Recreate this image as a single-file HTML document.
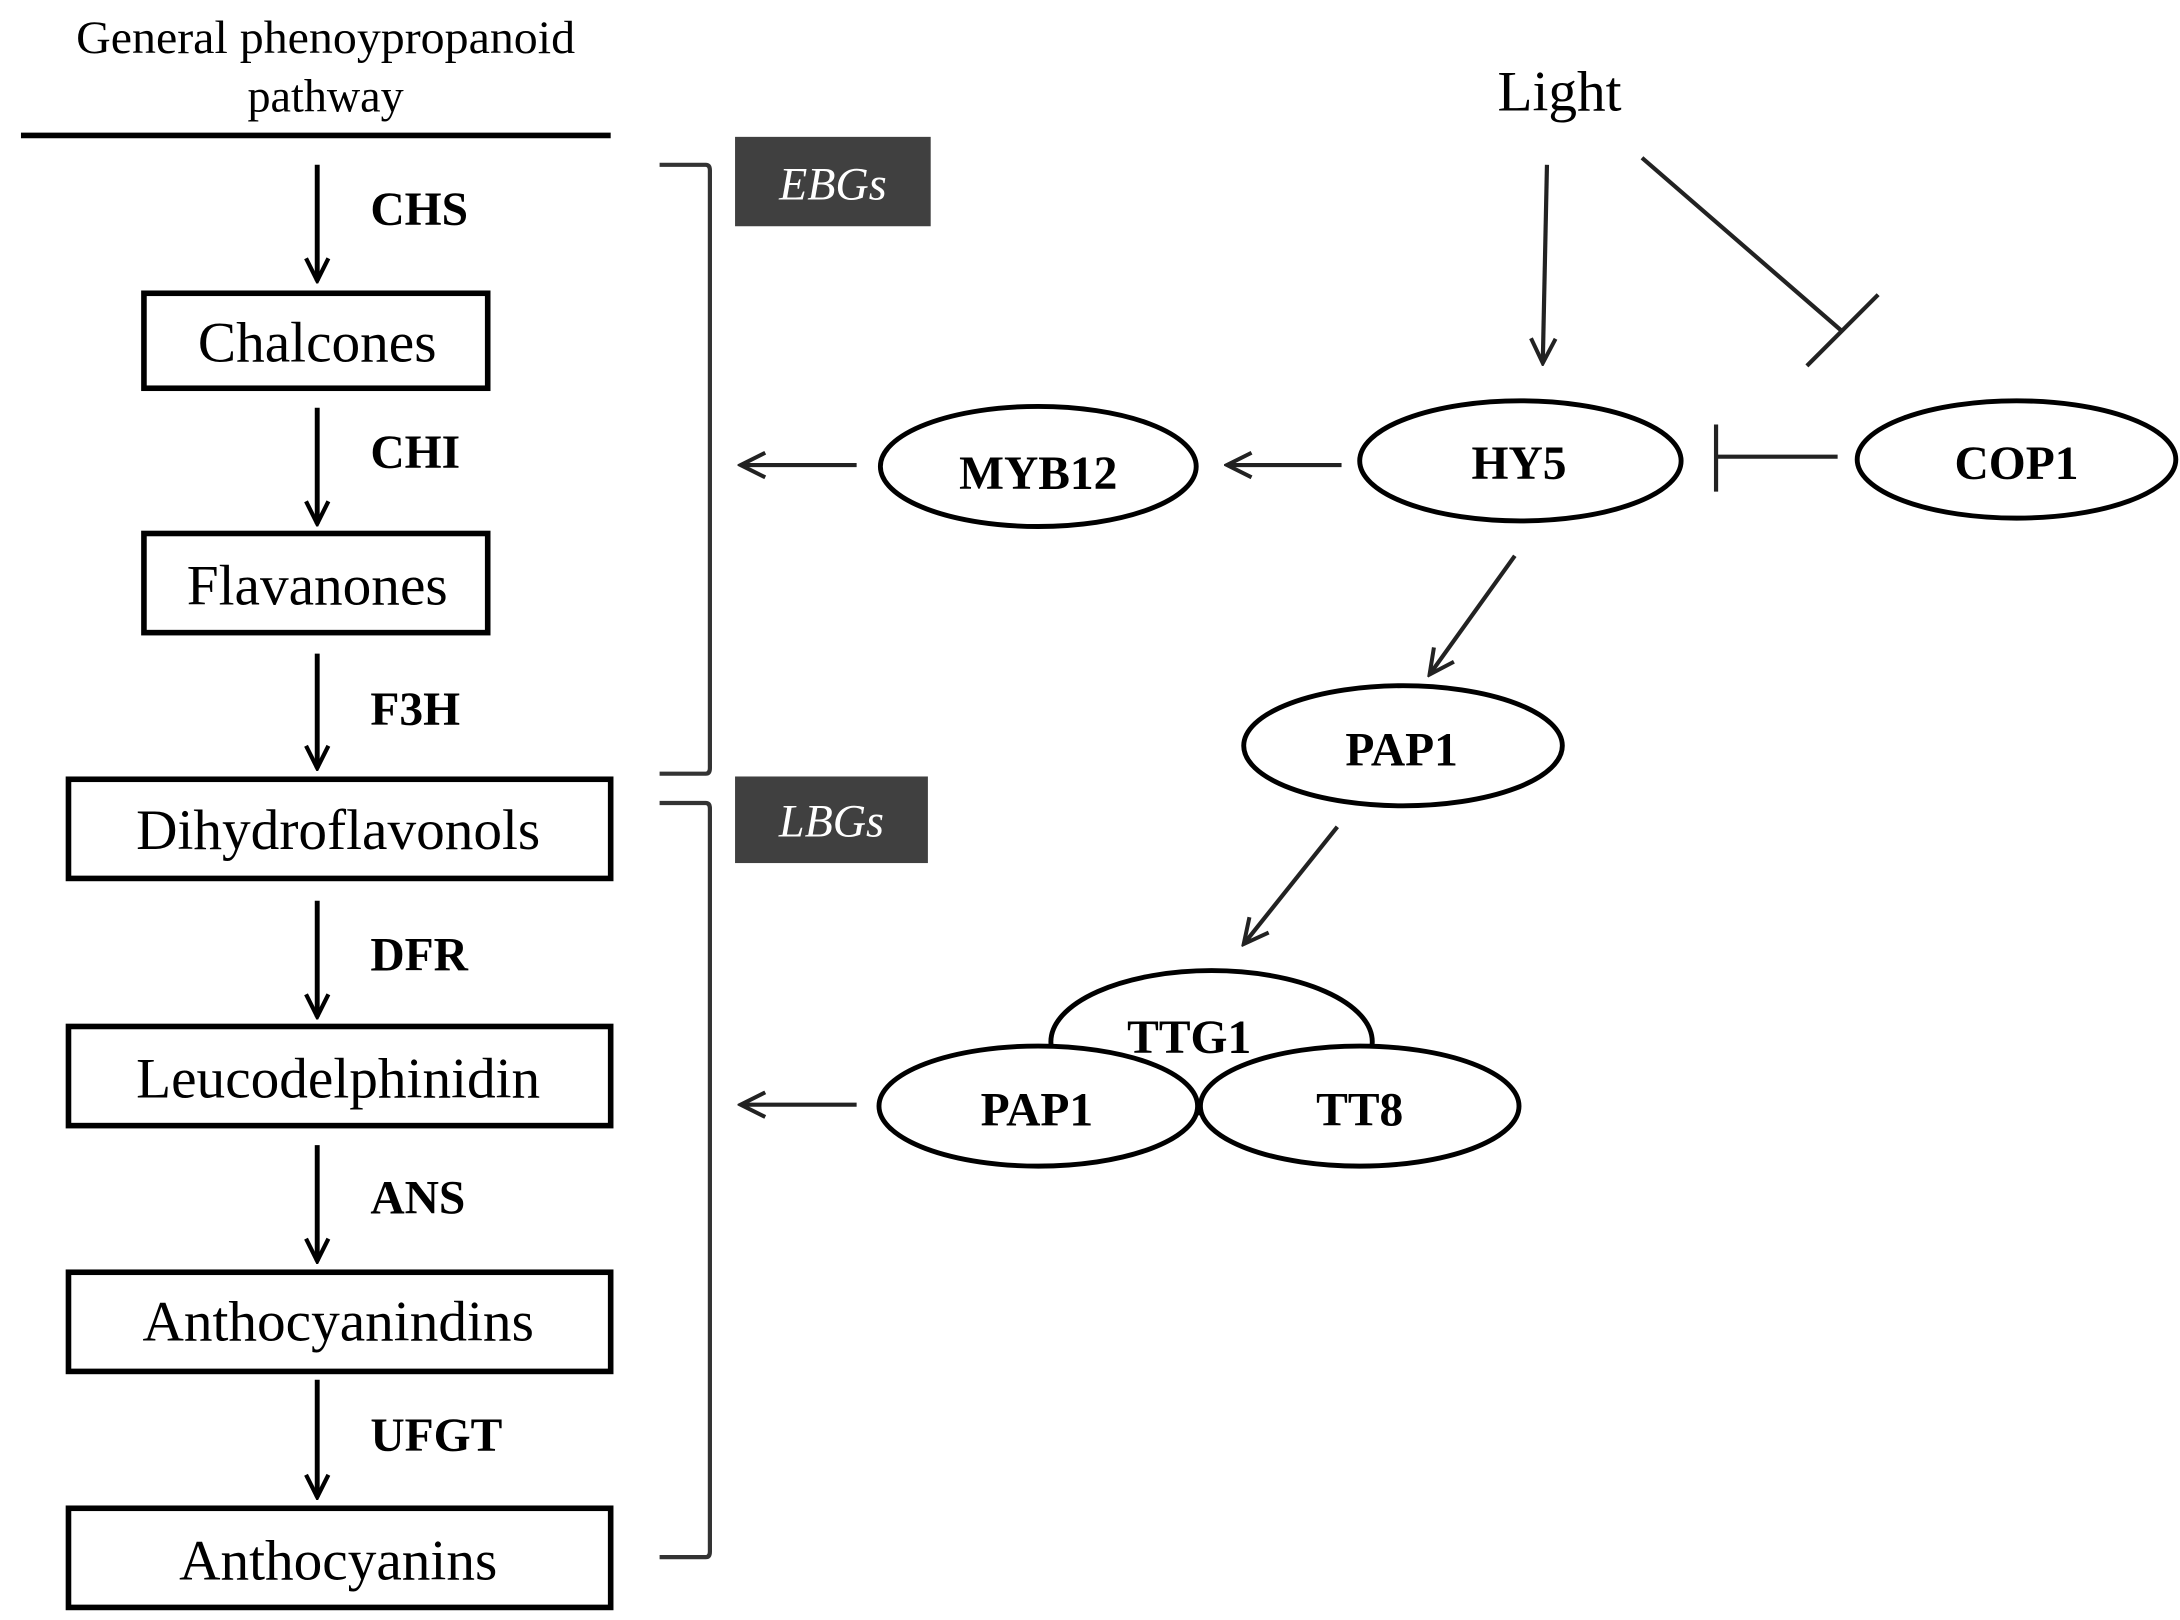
<!DOCTYPE html>
<html><head><meta charset="utf-8"><style>
html,body{margin:0;padding:0;background:#fff;}
svg{display:block;}
text{font-family:"Liberation Serif",serif;fill:#000;}
.b{font-weight:bold;}
</style></head><body>
<svg width="2180" height="1620" viewBox="0 0 1560 1160" preserveAspectRatio="none" xmlns="http://www.w3.org/2000/svg">
<defs>
<marker id="ah" viewBox="0 0 20 20" refX="18" refY="10" markerWidth="20" markerHeight="20" markerUnits="userSpaceOnUse" orient="auto">
<path d="M2,2 L18,10 L2,18" fill="none" stroke="#000" stroke-width="3"/>
</marker>
<marker id="ah2" viewBox="0 0 20 20" refX="18" refY="10" markerWidth="22" markerHeight="22" markerUnits="userSpaceOnUse" orient="auto">
<path d="M2,2 L18,10 L2,18" fill="none" stroke="#222" stroke-width="2.6"/>
</marker>
</defs>
<g fill="none" stroke="#000">
<text x="233" y="38" font-size="33" text-anchor="middle" stroke="none" textLength="357" lengthAdjust="spacingAndGlyphs">General phenoypropanoid</text>
<text x="233" y="80" font-size="33" text-anchor="middle" stroke="none">pathway</text>
<line x1="15" y1="97" x2="437" y2="97" stroke-width="4"/>

<line x1="227" y1="118" x2="227" y2="201" stroke-width="3.5" marker-end="url(#ah)"/>
<line x1="227" y1="292" x2="227" y2="375" stroke-width="3.5" marker-end="url(#ah)"/>
<line x1="227" y1="468" x2="227" y2="550" stroke-width="3.5" marker-end="url(#ah)"/>
<line x1="227" y1="645" x2="227" y2="728" stroke-width="3.5" marker-end="url(#ah)"/>
<line x1="227" y1="820" x2="227" y2="903" stroke-width="3.5" marker-end="url(#ah)"/>
<line x1="227" y1="988" x2="227" y2="1072" stroke-width="3.5" marker-end="url(#ah)"/>

<rect x="103" y="210" width="246" height="68" stroke-width="4"/>
<rect x="103" y="382" width="246" height="71" stroke-width="4"/>
<rect x="49" y="558" width="388" height="71" stroke-width="4"/>
<rect x="49" y="735" width="388" height="71" stroke-width="4"/>
<rect x="49" y="911" width="388" height="71" stroke-width="4"/>
<rect x="49" y="1080" width="388" height="71" stroke-width="4"/>

<path d="M472,118 H505 Q508,118 508,122 V550 Q508,554 505,554 H472" stroke="#333" stroke-width="3"/>
<path d="M472,575 H505 Q508,575 508,579 V1111 Q508,1115 505,1115 H472" stroke="#333" stroke-width="3"/>
</g>
<g class="b" font-size="34">
<text x="265" y="161" class="b">CHS</text>
<text x="265" y="335" class="b">CHI</text>
<text x="265" y="519" class="b">F3H</text>
<text x="265" y="695" class="b">DFR</text>
<text x="265" y="869" class="b">ANS</text>
<text x="265" y="1039" class="b">UFGT</text>
</g>
<g font-size="41" text-anchor="middle">
<text x="227" y="259">Chalcones</text>
<text x="227" y="433">Flavanones</text>
<text x="242" y="608">Dihydroflavonols</text>
<text x="242" y="786">Leucodelphinidin</text>
<text x="242" y="960">Anthocyanindins</text>
<text x="242" y="1131">Anthocyanins</text>
</g>

<rect x="526" y="98" width="140" height="64" fill="#404040"/>
<rect x="526" y="556" width="138" height="62" fill="#404040"/>
<text x="596" y="143" font-size="33" font-style="italic" text-anchor="middle" style="fill:#fff">EBGs</text>
<text x="595" y="599" font-size="33" font-style="italic" text-anchor="middle" style="fill:#fff">LBGs</text>

<text x="1116" y="79" font-size="41" text-anchor="middle">Light</text>

<g fill="none" stroke="#222" stroke-width="3">
<line x1="613" y1="333" x2="530" y2="333" marker-end="url(#ah2)"/>
<line x1="613" y1="791" x2="530" y2="791" marker-end="url(#ah2)"/>
<line x1="960" y1="333" x2="878" y2="333" marker-end="url(#ah2)"/>
<line x1="1107" y1="118" x2="1104" y2="260" marker-end="url(#ah2)"/>
<line x1="1084" y1="398" x2="1023" y2="483" marker-end="url(#ah2)"/>
<line x1="957" y1="592" x2="890" y2="676" marker-end="url(#ah2)"/>
<line x1="1315" y1="327" x2="1228" y2="327"/>
<line x1="1228" y1="304" x2="1228" y2="352"/>
<line x1="1175" y1="113" x2="1318" y2="237"/>
<line x1="1293" y1="262" x2="1344" y2="211"/>
</g>
<g fill="#fff" stroke="#000" stroke-width="3.5">
<ellipse cx="743" cy="334" rx="113" ry="43"/>
<ellipse cx="1088" cy="330" rx="115" ry="43"/>
<ellipse cx="1443" cy="329" rx="114" ry="42"/>
<ellipse cx="1004" cy="534" rx="114" ry="43"/>
<ellipse cx="867" cy="746" rx="115" ry="51"/>
<ellipse cx="743" cy="792" rx="114" ry="43"/>
<ellipse cx="973" cy="792" rx="114" ry="43"/>
</g>
<g class="b" font-size="34" text-anchor="middle">
<text x="743" y="350" class="b">MYB12</text>
<text x="1087" y="343" class="b">HY5</text>
<text x="1443" y="343" class="b">COP1</text>
<text x="1003" y="548" class="b">PAP1</text>
<text x="851" y="754" class="b">TTG1</text>
<text x="742" y="806" class="b">PAP1</text>
<text x="973" y="806" class="b">TT8</text>
</g>
</svg>
</body></html>
